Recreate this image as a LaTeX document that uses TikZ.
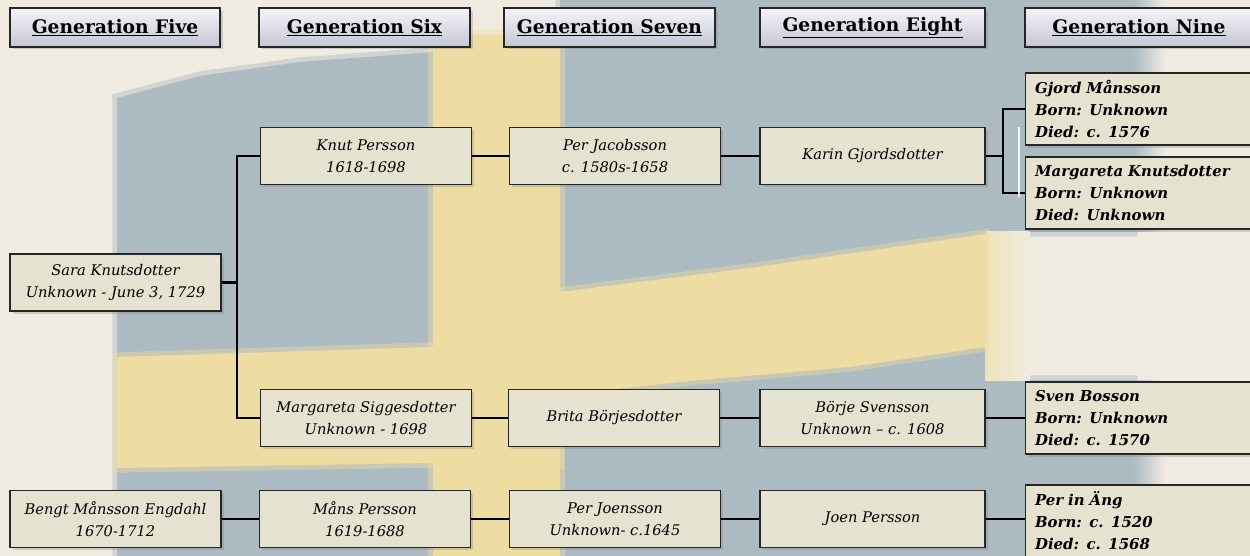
\documentclass[tikz,border=0pt]{standalone}
\usepackage{fontspec}
\setmainfont{DejaVu Serif}
\usetikzlibrary{shadows}

\definecolor{bgbeige}{RGB}{239,235,224}
\definecolor{flagblue}{RGB}{172,186,194}
\definecolor{flaggold}{RGB}{237,221,162}
\definecolor{boxfill}{RGB}{229,226,208}
\definecolor{headtop}{RGB}{244,244,248}
\definecolor{headbot}{RGB}{196,198,214}
\definecolor{boxline}{RGB}{38,38,38}

\tikzset{
  person/.style={draw=boxline, line width=1.1pt, fill=boxfill,
    minimum width=158.5pt, minimum height=42.5pt, inner sep=2pt,
    align=center, font=\fontsize{11}{16.5}\selectfont\itshape,
    drop shadow={shadow xshift=2pt, shadow yshift=-2pt, opacity=0.3}},
  wideperson/.style={person, minimum width=168.75pt},
  ancestor/.style={person, anchor=west, align=left, text width=160pt,
    inner xsep=7pt, minimum height=54pt,
    font=\fontsize{11.2}{16.5}\selectfont\bfseries\itshape},
  genhead/.style={draw=boxline, line width=1.1pt, top color=headtop,
    bottom color=headbot, minimum width=158pt, minimum height=29pt,
    font=\fontsize{14}{15}\selectfont\bfseries,
    drop shadow={shadow xshift=2pt, shadow yshift=-2pt, opacity=0.3}},
  link/.style={line width=2.1pt},
  soft/.style={line width=7pt, draw opacity=0.45}
}

\begin{document}
\begin{tikzpicture}[x=0.75pt, y=-0.75pt]

  % background and flag
  \fill[bgbeige] (0,0) rectangle (1250,556);
  \useasboundingbox (0,0) rectangle (1250,556);

  \filldraw[fill=flagblue, draw=flagblue, soft] (117,98) -- (200,76) -- (300,62) -- (433,52) -- (560,40)
    -- (560,0) -- (1133,0) -- (1133,232) -- (985,232) -- (985,380)
    -- (1133,380) -- (1133,560) -- (117,560) -- cycle;
  \shade[left color=flagblue, right color=bgbeige] (1133,0) rectangle (1165,232);
  \shade[left color=flagblue, right color=bgbeige] (1133,380) rectangle (1165,556);
  \shade[left color=flaggold!60!bgbeige, right color=bgbeige] (985,232) rectangle (1030,380);

  \filldraw[fill=flaggold, draw=flaggold, soft] (433,35) rectangle (560,560);
  \filldraw[fill=flaggold, draw=flaggold, soft] (117,357) -- (433,347) -- (560,292) -- (750,268)
    -- (985,234) -- (985,347) -- (850,367) -- (700,380) -- (560,395)
    -- (560,465) -- (433,463) -- (117,468) -- cycle;

  % generation headers
  \node[genhead, minimum width=157.5pt] (h5) at (115,27.5) {\underline{Generation Five}};
  \node[genhead] (h6) at (364.5,27.5) {\underline{Generation Six}};
  \node[genhead] (h7) at (609.5,27.5) {\underline{Generation Seven}};
  \node[genhead, minimum width=168.75pt] (h8) at (872.5,27.5) {\underline{Generation Eight}};
  \node[genhead, minimum width=171pt] (h9) at (1139,27.5) {\underline{Generation Nine}};

  % generation five
  \node[person] (sara) at (115.5,282.5) {Sara Knutsdotter\\Unknown - June 3, 1729};
  \node[person] (bengt) at (115.5,519) {Bengt Månsson Engdahl\\1670-1712};

  % generation six
  \node[person] (knut) at (366,156) {Knut Persson\\1618-1698};
  \node[person] (msig) at (366,418) {Margareta Siggesdotter\\Unknown - 1698};
  \node[person] (mans) at (365,519) {Måns Persson\\1619-1688};

  % generation seven
  \node[person] (perjac) at (615,156) {Per Jacobsson\\c. 1580s-1658};
  \node[person] (brita) at (614,418) {Brita Börjesdotter};
  \node[person] (perjoe) at (615,519) {Per Joensson\\Unknown- c.1645};

  % generation eight
  \node[wideperson] (karin) at (872.5,156) {Karin Gjordsdotter};
  \node[wideperson] (borje) at (872.5,418) {Börje Svensson\\Unknown – c. 1608};
  \node[wideperson] (joen) at (872.5,519) {Joen Persson};

  % generation nine
  \node[ancestor] (gjord) at (1025,109) {Gjord Månsson\\Born: Unknown\\Died: c. 1576};
  \node[ancestor] (margk) at (1025,193) {Margareta Knutsdotter\\Born: Unknown\\Died: Unknown};
  \node[ancestor] (sven) at (1025,418) {Sven Bosson\\Born: Unknown\\Died: c. 1570};
  \node[ancestor] (perang) at (1025,521) {Per in Äng\\Born: c. 1520\\Died: c. 1568};

  \coordinate (split) at (237,282.5);
  \coordinate (fork) at (1003,156);

%  \draw (split) node {split};
%  \draw (fork) node {fork};

  \draw[link] (sara.east) -- (split);
  \draw[link] (knut.west) -| (split) |- (msig.west);

  \draw[link] (knut.east) -- (perjac.west);
  \draw[link] (perjac.east) -- (karin.west);
  \draw[link] (karin.east) -- (fork);
  \draw[link] (gjord.west) -| (fork) |- (margk.west);
  \draw[white, line width=2pt, opacity=0.85] (1019,127) -- (1019,197);

  \draw[link] (msig.east) -- (brita.west);
  \draw[link] (brita.east) -- (borje.west);
  \draw[link] (borje.east) -- (sven.west);

  \draw[link] (bengt.east) -- (mans.west);
  \draw[link] (mans.east) -- (perjoe.west);
  \draw[link] (perjoe.east) -- (joen.west);
  \draw[link] (joen.east) -- (joen.east -| perang.west);

\end{tikzpicture}
\end{document}
